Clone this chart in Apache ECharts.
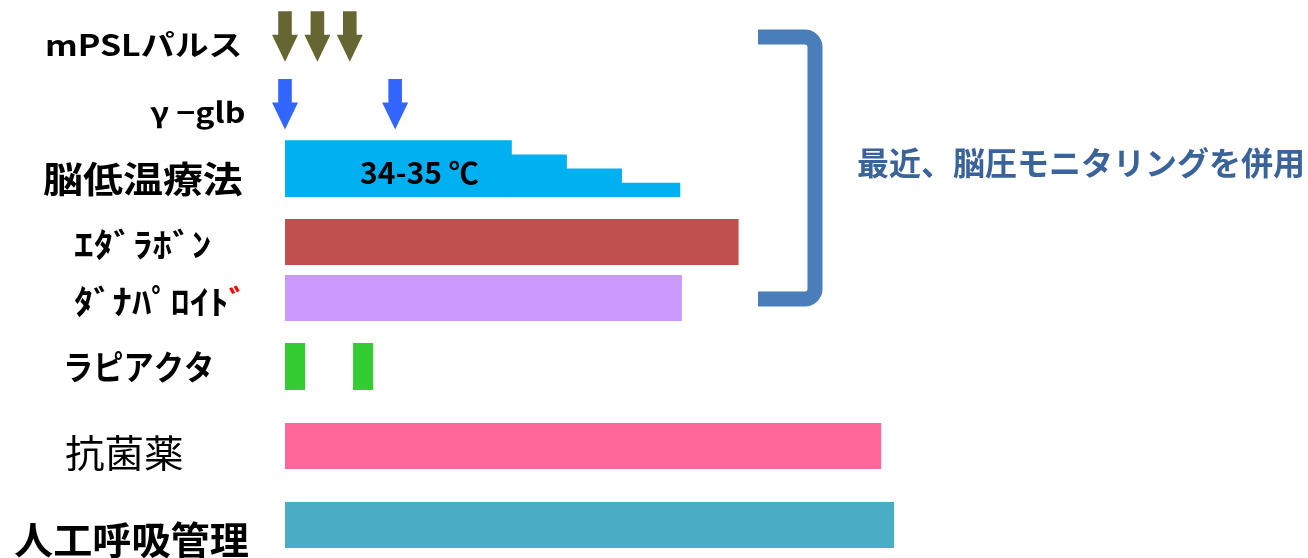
<!DOCTYPE html>
<html>
<head>
<meta charset="utf-8">
<script src="https://cdn.jsdelivr.net/npm/echarts@6/dist/echarts.min.js"></script>
<style>
  html, body { margin: 0; padding: 0; background: #ffffff; }
  #chart { width: 1308px; height: 558px; }
</style>
</head>
<body>
<div id="chart"></div>
<script>
// Treatment timeline: days from start on x, treatment rows on y (top to bottom)
const rowNames = ['mPSLパルス', 'γ −glb', '脳低温療法', 'ｴﾀﾞﾗﾎﾞﾝ', 'ﾀﾞﾅﾊﾟﾛｲﾄ', 'ラピアクタ', '抗菌薬', '人工呼吸管理'];
// row positions on the vertical scale (0 = top edge)
const rowPos = [3.63, 10.4, 19.7, 24.2, 29.8, 36.65, 44.6, 52.5];

const mpslDays = [0, 1, 2];
const glbDays = [0, 3.4];
// start day, end day, cooling level (stepwise rewarming)
const coolingSteps = [[0, 7, 4], [7, 8.7, 3], [8.7, 10.4, 2], [10.4, 12.2, 1]];
const edaravoneSpans = [[0, 14]];
const danaparoidSpans = [[0, 12.25]];
const rapiactaSpans = [[0, 0.62], [2.1, 2.72]];
const antibioticSpans = [[0, 18.4]];
const ventilationSpans = [[0, 18.8]];

const coolingNote = '34-35 ℃';
const bracketNote = '最近、脳圧モニタリングを併用';

const FONT = '"Noto Sans CJK JP", "Noto Sans", sans-serif';

function arrowItem(color) {
  return function (params, api) {
    const p = api.coord([api.value(0), api.value(1)]);
    const x = p[0], y = p[1];
    const top = y - 25, neck = y - 1.5, tip = y + 25.5;
    const sw = 6.8, hw = 13;
    return {
      type: 'polygon',
      shape: { points: [[x - sw, top], [x + sw, top], [x + sw, neck], [x + hw, neck], [x, tip], [x - hw, neck], [x - sw, neck]] },
      style: { fill: color }
    };
  };
}

function spanItem(color, thickness) {
  return function (params, api) {
    const a = api.coord([api.value(0), api.value(2)]);
    const b = api.coord([api.value(1), api.value(2)]);
    return {
      type: 'rect',
      shape: { x: a[0], y: a[1] - thickness / 2, width: b[0] - a[0], height: thickness },
      style: { fill: color }
    };
  };
}

// each step overlaps its left neighbour by a pixel so no seam shows
function coolingItem(color, stepHeight) {
  return function (params, api) {
    const a = api.coord([api.value(0), api.value(2)]);
    const b = api.coord([api.value(1), api.value(2)]);
    const h = api.value(3) * stepHeight;
    const lap = params.dataIndex > 0 ? 1.5 : 0;
    return {
      type: 'rect',
      shape: { x: a[0] - lap, y: a[1] - h, width: b[0] - a[0] + lap, height: h },
      style: { fill: color }
    };
  };
}

const withRow = (spans, row) => spans.map(s => [s[0], s[1], rowPos[row]]);

// right-hand bracket: arms on the left, rounded corners
function bracketPoints(left, right, top, bottom, r) {
  const pts = [[left, top]];
  const n = 8;
  for (let i = 0; i <= n; i++) {
    const a = -Math.PI / 2 + (Math.PI / 2) * i / n;
    pts.push([right - r + r * Math.cos(a), top + r + r * Math.sin(a)]);
  }
  for (let i = 0; i <= n; i++) {
    const a = (Math.PI / 2) * i / n;
    pts.push([right - r + r * Math.cos(a), bottom - r + r * Math.sin(a)]);
  }
  pts.push([left, bottom]);
  return pts;
}

// left-side row labels
const labelLayout = [
  { x: 45, y: 45, size: 29, weight: 'bold', sx: 1.17 },
  { x: 150, y: 112, size: 28, weight: 'bold', sx: 1.15 },
  { x: 43, y: 179, size: 36, weight: 'bold', sx: 1.11 },
  { x: 74, y: 244, size: 33, weight: 'bold', sx: 1.19 },
  { x: 74, y: 301, size: 33, weight: 'bold', sx: 1.17 },
  { x: 63, y: 367, size: 34, weight: 'bold', sx: 0.89 },
  { x: 65, y: 453, size: 38, weight: 'normal', sx: 1.04 },
  { x: 14, y: 540, size: 38, weight: 'bold', sx: 1.03 }
];

const labelGraphics = rowNames.map((name, i) => {
  const l = labelLayout[i];
  const style = {
    text: name,
    fontSize: l.size, fontWeight: l.weight, fontFamily: FONT,
    fill: '#000000', align: 'left', verticalAlign: 'middle',
    textAlign: 'left', textVerticalAlign: 'middle'
  };
  if (i === 4) {
    style.text = '{a|' + name + '}{r|ﾞ}';
    style.rich = {
      a: { fontSize: l.size, fontWeight: l.weight, fontFamily: FONT, fill: '#000000' },
      r: { fontSize: l.size, fontWeight: l.weight, fontFamily: FONT, fill: '#FF0000' }
    };
  }
  return { type: 'text', x: l.x, y: l.y, scaleX: l.sx, style: style, silent: true };
});

const chart = echarts.init(document.getElementById('chart'), null, { renderer: 'canvas' });

chart.setOption({
  backgroundColor: '#ffffff',
  animation: false,
  grid: { left: 285, top: 0, width: 972, height: 558 },
  xAxis: { type: 'value', min: 0, max: 30, show: false },
  yAxis: { type: 'value', min: 0, max: 55.8, inverse: true, show: false },
  series: [
    {
      name: rowNames[0], type: 'custom',
      renderItem: arrowItem('#666633'),
      data: mpslDays.map(d => [d, rowPos[0]])
    },
    {
      name: rowNames[1], type: 'custom',
      renderItem: arrowItem('#3366FF'),
      data: glbDays.map(d => [d, rowPos[1]])
    },
    {
      name: rowNames[2], type: 'custom',
      renderItem: coolingItem('#00B0F0', 14.2),
      data: coolingSteps.map(s => [s[0], s[1], rowPos[2], s[2]])
    },
    { name: rowNames[3], type: 'custom', renderItem: spanItem('#C0504D', 46), data: withRow(edaravoneSpans, 3) },
    { name: rowNames[4], type: 'custom', renderItem: spanItem('#CC99FF', 46), data: withRow(danaparoidSpans, 4) },
    { name: rowNames[5], type: 'custom', renderItem: spanItem('#33CC33', 47), data: withRow(rapiactaSpans, 5) },
    { name: rowNames[6], type: 'custom', renderItem: spanItem('#FF6699', 46), data: withRow(antibioticSpans, 6) },
    { name: rowNames[7], type: 'custom', renderItem: spanItem('#4BACC6', 46), data: withRow(ventilationSpans, 7) }
  ],
  graphic: labelGraphics.concat([
    {
      type: 'text', x: 360, y: 173, scaleX: 1.0, silent: true, z: 10,
      style: {
        text: coolingNote, fontSize: 30, fontWeight: 'bold', fontFamily: FONT, fill: '#000000',
        align: 'left', verticalAlign: 'middle', textAlign: 'left', textVerticalAlign: 'middle'
      }
    },
    {
      type: 'polyline', silent: true,
      shape: { points: bracketPoints(758, 815, 37, 299, 10) },
      style: { fill: null, stroke: '#4A7EBB', lineWidth: 15, lineJoin: 'round' }
    },
    {
      type: 'text', x: 857, y: 163, silent: true,
      style: {
        text: bracketNote, fontSize: 32, fontWeight: 'bold', fontFamily: FONT, fill: '#3A6399',
        align: 'left', verticalAlign: 'middle', textAlign: 'left', textVerticalAlign: 'middle'
      }
    }
  ])
});
</script>
</body>
</html>
